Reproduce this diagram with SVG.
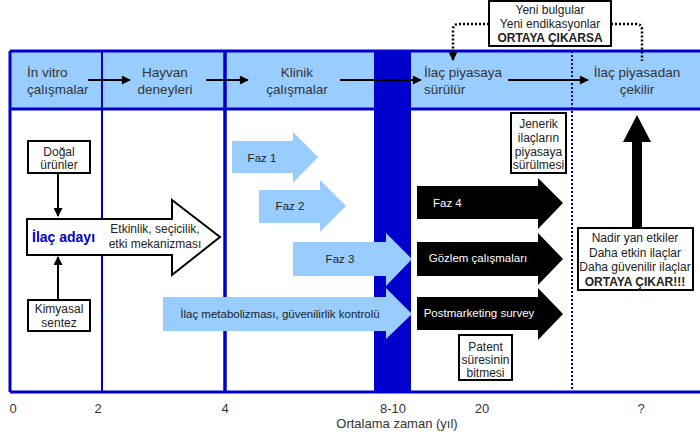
<svg xmlns="http://www.w3.org/2000/svg" width="700" height="439" viewBox="0 0 700 439">
<style>
text{font-family:"Liberation Sans",Arial,sans-serif;fill:#222}
.hd{font-size:13.5px;fill:#333}
.ax{font-size:13px;fill:#333}
.sm{font-size:12px}
.fz{font-size:11.5px}
.md{font-size:12px}
.wt{fill:#fff;font-size:11.5px}
.c{text-anchor:middle}
.b{font-weight:bold}
.box{fill:#fff;stroke:#000;stroke-width:2}
.lb{fill:#99ccff}
.bk{fill:#000}
.bl{stroke:#0000cc;fill:none}
</style>
<defs>
<marker id="ah" viewBox="0 0 10 10" refX="9" refY="5" markerWidth="5" markerHeight="4.5" orient="auto"><path d="M0,0L10,5L0,10z" fill="#000"/></marker>
<marker id="ahs" viewBox="0 0 10 10" refX="9" refY="5" markerWidth="3.5" markerHeight="3.5" orient="auto"><path d="M0,0L10,5L0,10z" fill="#000"/></marker>
</defs>
<rect width="700" height="439" fill="#fff"/>
<g id="frame">
<rect x="10" y="51" width="700" height="58" fill="#99ccff"/>
<rect x="374" y="51" width="37" height="341" fill="#0000cc"/>
<line class="bl" x1="10" y1="51" x2="700" y2="51" stroke-width="3"/>
<line class="bl" x1="10" y1="109" x2="700" y2="109" stroke-width="3"/>
<line class="bl" x1="10" y1="392" x2="700" y2="392" stroke-width="3"/>
<line class="bl" x1="10" y1="51" x2="10" y2="392" stroke-width="3"/>
<line class="bl" x1="102" y1="51" x2="102" y2="392" stroke-width="2"/>
<line class="bl" x1="225" y1="51" x2="225" y2="392" stroke-width="3.5"/>
<line class="bl" x1="572" y1="51" x2="572" y2="392" stroke-width="2" stroke-dasharray="2,2"/>
</g>
<g id="h1"><text class="hd" x="27" y="77">İn vitro</text><text class="hd" x="27" y="94">çalışmalar</text></g>
<g id="h2"><text class="hd c" x="165" y="77">Hayvan</text><text class="hd c" x="165" y="94">deneyleri</text></g>
<g id="h3"><text class="hd c" x="297" y="77">Klinik</text><text class="hd c" x="297" y="94">çalışmalar</text></g>
<g id="h4"><text class="hd" x="424" y="77">İlaç piyasaya</text><text class="hd" x="424" y="94">sürülür</text></g>
<g id="h5"><text class="hd c" x="637" y="77">İlaç piyasadan</text><text class="hd c" x="637" y="94">çekilir</text></g>
<g id="topbox">
<rect class="box" x="489" y="1" width="122" height="45"/>
<text class="md c" x="550" y="14">Yeni bulgular</text>
<text class="md c" x="550" y="28">Yeni endikasyonlar</text>
<text class="md c b" x="550" y="42">ORTAYA ÇIKARSA</text>
</g>
<g id="dogal"><rect class="box" x="28" y="141" width="62" height="32"/><text class="sm c" x="59" y="156">Doğal</text><text class="sm c" x="59" y="169">ürünler</text></g>
<g id="kimyasal"><rect class="box" x="28" y="300" width="62" height="31"/><text class="sm c" x="59" y="313">Kimyasal</text><text class="sm c" x="59" y="327">sentez</text></g>
<g id="aday">
<polygon points="27,219 172,219 172,200 220,237 172,275 172,255 27,255" fill="#fff" stroke="#000" stroke-width="2"/>
<text x="32" y="242" font-size="14" font-weight="bold" style="fill:#0000cc">İlaç adayı</text>
<text class="md c" x="155" y="233">Etkinlik, seçicilik,</text>
<text class="md c" x="155" y="248">etki mekanizması</text>
</g>
<g id="faz1"><polygon class="lb" points="232,141 293,141 293,132 318,157 293,183 293,173 232,173"/><text class="fz c" x="262" y="162">Faz 1</text></g>
<g id="faz2"><polygon class="lb" points="259,190 320,190 320,180 346,206 320,232 320,223 259,223"/><text class="fz c" x="290" y="210">Faz 2</text></g>
<g id="faz3"><polygon class="lb" points="293,242 386,242 386,233 412,259 386,286 386,276 293,276"/><text class="fz c" x="340" y="263">Faz 3</text></g>
<g id="metab"><polygon class="lb" points="163,297 386,297 386,288 412,314 386,339 386,331 163,331"/><text class="c" font-size="11.5" x="280" y="318">İlaç metabolizması, güvenilirlik kontrolü</text></g>
<g id="faz4"><polygon class="bk" points="417,186 538,186 538,178 563,203 538,229 538,219 417,219"/><text class="wt" x="433" y="207">Faz 4</text></g>
<g id="gozlem"><polygon class="bk" points="417,242 538,242 538,233 563,259 538,285 538,276 417,276"/><text class="wt c" x="478" y="262">Gözlem çalışmaları</text></g>
<g id="postm"><polygon class="bk" points="417,297 538,297 538,288 563,314 538,340 538,330 417,330"/><text class="wt c" x="479" y="317">Postmarketing survey</text></g>
<g id="jenerik"><rect class="box" x="511" y="113" width="55" height="60"/><text class="sm c" x="538.5" y="128">Jenerik</text><text class="sm c" x="538.5" y="142">ilaçların</text><text class="sm c" x="538.5" y="156">piyasaya</text><text class="sm c" x="538.5" y="169">sürülmesi</text></g>
<g id="patent"><rect class="box" x="459" y="335" width="53" height="45"/><text class="sm c" x="485.5" y="351">Patent</text><text class="sm c" x="485.5" y="364">süresinin</text><text class="sm c" x="485.5" y="377">bitmesi</text></g>
<g id="uparrow"><polygon class="bk" points="632,229 642,229 642,142 651,142 637,115 623,142 632,142"/></g>
<g id="rbox"><rect class="box" x="578" y="228" width="115" height="62"/>
<text class="md c" x="635" y="242">Nadir yan etkiler</text>
<text class="md c" x="635" y="257">Daha etkin ilaçlar</text>
<text class="md c" x="635" y="271">Daha güvenilir ilaçlar</text>
<text class="md c b" x="635" y="286">ORTAYA ÇIKAR!!!</text></g>
<g id="connectors" fill="none" stroke="#000">
<line x1="88" y1="80" x2="130" y2="80" stroke-width="2" marker-end="url(#ah)"/>
<line x1="206" y1="80" x2="248" y2="80" stroke-width="2" marker-end="url(#ah)"/>
<line x1="340" y1="80" x2="421" y2="80" stroke-width="2" marker-end="url(#ah)"/>
<line x1="508" y1="80" x2="588" y2="80" stroke-width="2" marker-end="url(#ah)"/>
<line x1="58" y1="173" x2="58" y2="216" stroke-width="2" marker-end="url(#ah)"/>
<line x1="58" y1="300" x2="58" y2="257" stroke-width="2" marker-end="url(#ah)"/>
<path d="M489,24H459Q453,24 453,30V60" stroke-width="2.5" stroke-dasharray="2,2" marker-end="url(#ahs)"/>
<path d="M611,24H636Q642,24 642,30V61" stroke-width="2.5" stroke-dasharray="2,2"/>
</g>
<g id="axis">
<text class="ax c" x="13" y="413">0</text>
<text class="ax c" x="98" y="413">2</text>
<text class="ax c" x="225" y="413">4</text>
<text class="ax c" x="393" y="413">8-10</text>
<text class="ax c" x="482" y="413">20</text>
<text class="ax c" x="641" y="413">?</text>
<text class="ax c" x="397" y="428">Ortalama zaman (yıl)</text>
</g>
</svg>
